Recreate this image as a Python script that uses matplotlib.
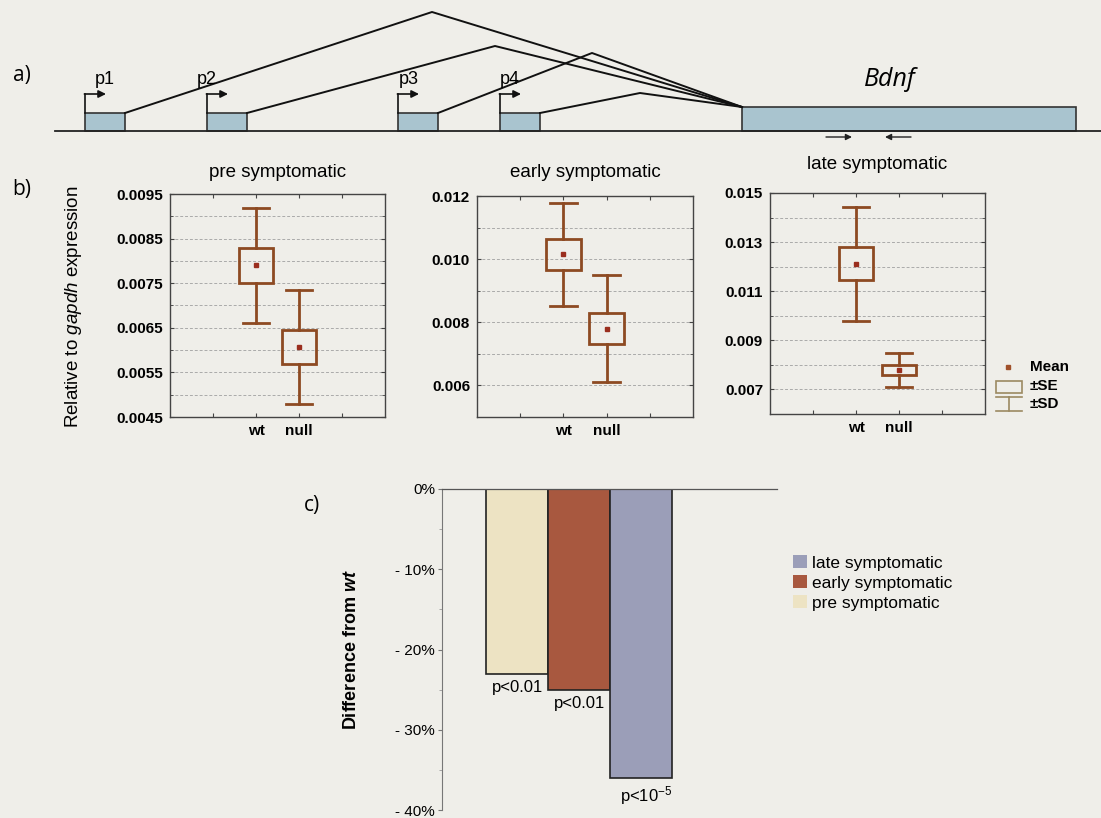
import numpy as np
import matplotlib.pyplot as plt
from matplotlib.patches import Rectangle, Patch
from matplotlib.ticker import FixedLocator, MultipleLocator, FormatStrFormatter, FuncFormatter

plt.rcParams['font.family'] = ['Liberation Sans', 'DejaVu Sans']
plt.rcParams['mathtext.fontset'] = 'custom'
plt.rcParams['mathtext.rm'] = 'Liberation Sans'
plt.rcParams['mathtext.it'] = 'Liberation Sans:italic'
plt.rcParams['mathtext.bf'] = 'Liberation Sans:bold'
plt.rcParams['mathtext.bfit'] = 'Liberation Sans:bold:italic'

# --- a) gene model, in page pixels ---
promoters = ['p1', 'p2', 'p3', 'p4']
exon_left = [85, 207, 398, 500]
exon_len = 40
label_shift = [20, 0, 11, 10]
splice_peak_x = [432, 495, 592, 640]
splice_peak_y = [12, 46, 53, 93]
coding_exon = (742, 1076)
primers = [(826, 852), (911, 885)]

# --- b) Bdnf relative to gapdh: mean, +-SE, +-SD ---
stages = ['pre symptomatic', 'early symptomatic', 'late symptomatic']
genotypes = ['wt', 'null']
means = [[0.00790, 0.00607], [0.01015, 0.00780], [0.01212, 0.00780]]
sem = [[0.00039, 0.00039], [0.00048, 0.00050], [0.00068, 0.00021]]
sdev = [[0.00129, 0.00128], [0.00163, 0.00170], [0.00232, 0.00069]]
y_ranges = [(0.0045, 0.0095), (0.005, 0.012), (0.006, 0.015)]
y_first = [0.0045, 0.006, 0.007]
y_step = [0.001, 0.002, 0.002]
y_fmt = ['%.4f', '%.3f', '%.3f']

# --- c) null vs wt ---
diff_pct = [-23, -25, -36]
p_text = ['p<0.01', 'p<0.01', r'p<10$^{-5}$']
bar_colors = ['#ede3c3', '#a8583f', '#9b9eb8']

W, H = 1101, 818
bg = '#efeee9'
brown = '#8d4a22'
fig = plt.figure(figsize=(W / 100, H / 100), dpi=100, facecolor=bg)


def px_axes(left, top, right, bottom):
    return fig.add_axes([left / W, 1 - bottom / H, (right - left) / W, (bottom - top) / H])


# b) three box plots
box_axes = [(170, 194, 385, 417), (477, 196, 693, 417), (770, 193, 985, 414)]
title_pad = [12, 14, 17]
for k, stage in enumerate(stages):
    ax = px_axes(*box_axes[k])
    ax.set_facecolor('none')
    lo, hi = y_ranges[k]
    ax.set_xlim(0, 5)
    ax.set_ylim(lo, hi)
    ax.yaxis.set_major_locator(FixedLocator(np.arange(y_first[k], hi + 1e-9, y_step[k])))
    ax.yaxis.set_minor_locator(MultipleLocator(y_step[k] / 2))
    ax.yaxis.set_major_formatter(FormatStrFormatter(y_fmt[k]))
    ax.set_xticks([1, 2, 3, 4])
    ax.set_xticklabels(['', 'wt', 'null', ''])
    ax.grid(which='both', axis='y', color='#aaaaaa', lw=0.7, ls=(0, (3, 2)))
    ax.tick_params(which='both', direction='in', top=True, right=True, length=3,
                   color='#444444', labelsize=11, pad=5)
    ax.tick_params(which='minor', length=2)
    for lab in ax.get_xticklabels() + ax.get_yticklabels():
        lab.set_fontweight('bold')
    for sp in ax.spines.values():
        sp.set_color('#444444')
        sp.set_linewidth(1)
    ax.set_title(stage, fontsize=13.5, pad=title_pad[k])

    for j in range(len(genotypes)):
        x = j + 2
        m, s, d = means[k][j], sem[k][j], sdev[k][j]
        ax.add_patch(Rectangle((x - 0.4, m - s), 0.8, 2 * s, fill=False, ec=brown, lw=2, zorder=3))
        ax.plot([x, x], [m + s, m + d], color=brown, lw=2, zorder=3)
        ax.plot([x, x], [m - d, m - s], color=brown, lw=2, zorder=3)
        for cap in (m + d, m - d):
            ax.plot([x - 0.31, x + 0.31], [cap, cap], color=brown, lw=2, zorder=3)
        ax.plot(x, m, 's', ms=2.5, color='#9a2e1e', zorder=4)

fig.text(73 / W, 1 - 307 / H, r'Relative to $\mathit{gapdh}$ expression',
         rotation=90, ha='center', va='center', fontsize=13.5)

# c) percent change bars
axc = px_axes(442, 489, 777, 810)
axc.set_facecolor('none')
bars = axc.bar(range(3), diff_pct, width=1, color=bar_colors, edgecolor='#222222', lw=1.2)
axc.set_xlim(-1.21, 4.19)
axc.set_ylim(-40, 0)
axc.set_xticks([])
axc.set_yticks([0, -10, -20, -30, -40])
axc.yaxis.set_minor_locator(MultipleLocator(5))
axc.yaxis.set_major_formatter(FuncFormatter(lambda v, _: '0%' if v == 0 else f'- {abs(v):.0f}%'))
axc.tick_params(axis='y', labelsize=11, length=3, color='#777777', pad=2)
axc.tick_params(axis='y', which='minor', length=2, color='#999999')
axc.spines['right'].set_visible(False)
axc.spines['bottom'].set_visible(False)
axc.spines['left'].set_color('#777777')
axc.spines['top'].set_color('#555555')
axc.spines['top'].set_linewidth(0.9)
for i, (v, t) in enumerate(zip(diff_pct, p_text)):
    axc.text(i + (0.08 if i == 2 else 0), v - 0.8, t, ha='center', va='top', fontsize=12)
axc.set_ylabel(r'$\mathbf{Difference\ from}$ $\mathbfit{wt}$', fontsize=13)
axc.yaxis.set_label_coords(-(442 - 360) / 335, 0.5)

handles = [Patch(facecolor=c) for c in bar_colors][::-1]
fig.legend(handles, stages[::-1], loc='upper left', bbox_to_anchor=(793 / W, 1 - 555 / H),
           frameon=False, fontsize=12.5, handlelength=0.8, handleheight=0.8,
           handletextpad=0.3, labelspacing=0.25, borderpad=0, borderaxespad=0)

# overlay in page pixels: gene model, panel letters, box legend
ov = fig.add_axes([0, 0, 1, 1])
ov.set_xlim(0, W)
ov.set_ylim(H, 0)
ov.axis('off')
ov.set_facecolor('none')

ov.plot([55, W], [131, 131], color='#222222', lw=1.3)
for name, xl, sh, pkx, pky in zip(promoters, exon_left, label_shift, splice_peak_x, splice_peak_y):
    ov.add_patch(Rectangle((xl, 113), exon_len, 18, fc='#a9c4cf', ec='#333333', lw=1.2))
    ov.plot([xl + exon_len, pkx, coding_exon[0]], [113, pky, 107], color='#111111', lw=1.4)
    ov.plot([xl, xl], [113, 94], color='#111111', lw=1.2)
    ov.annotate('', xy=(xl + 21, 94), xytext=(xl - 0.6, 94),
                arrowprops=dict(arrowstyle='-|>', color='#111111', lw=1.2, mutation_scale=11,
                                shrinkA=0, shrinkB=0))
    ov.text(xl + sh, 84, name, ha='center', va='baseline', fontsize=13)
ov.add_patch(Rectangle((coding_exon[0], 107), coding_exon[1] - coding_exon[0], 24,
                       fc='#a9c4cf', ec='#333333', lw=1.2))
for x0, x1 in primers:
    ov.annotate('', xy=(x1, 137), xytext=(x0, 137),
                arrowprops=dict(arrowstyle='-|>', color='#222222', lw=1, mutation_scale=9,
                                shrinkA=0, shrinkB=0))
ov.text(890, 80, 'Bdnf', ha='center', va='center', fontsize=18, style='italic',
        family='Open Sans')

for lab, (x, y) in zip(['a)', 'b)', 'c)'], [(22, 75), (22, 190), (312, 505)]):
    ov.text(x, y, lab, ha='center', va='center', fontsize=15, family='Open Sans')

leg_col = '#9c8a62'
ov.plot(1008, 367, 's', ms=3, color='#a0502a')
ov.add_patch(Rectangle((996, 381), 26, 12, fill=False, ec=leg_col, lw=1.2))
ov.plot([996, 1022], [397, 397], color=leg_col, lw=1.2)
ov.plot([1009, 1009], [397, 411], color=leg_col, lw=1.2)
ov.plot([996, 1022], [411, 411], color=leg_col, lw=1.2)
for t, y in zip(['Mean', '±SE', '±SD'], [367, 386, 404]):
    ov.text(1030, y, t, ha='left', va='center', fontsize=11, fontweight='bold')

fig.savefig('out.png', dpi=100, facecolor=bg)
